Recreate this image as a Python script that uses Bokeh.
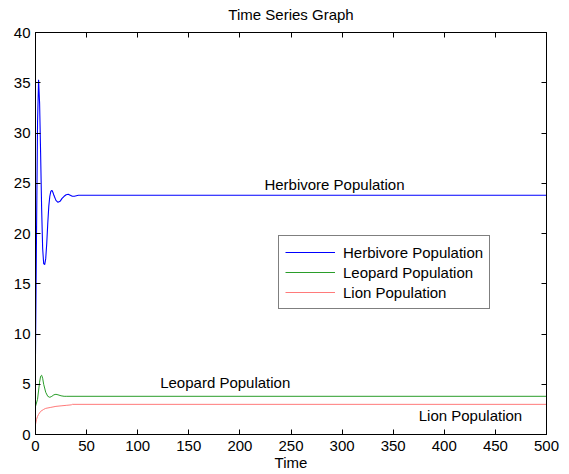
from bokeh.plotting import figure
from bokeh.models import (Range1d, LinearAxis, Label, Legend, LegendItem, FixedTicker,
                          CustomLabelingPolicy)
from bokeh.embed import file_html
from bokeh.resources import INLINE

# Population trajectories (time, population)
herb_t = [0, 1, 2, 3, 4, 5, 6, 7, 8, 9, 10, 11, 12, 13, 14, 15, 16, 17, 18, 20,
          22, 24, 26, 28, 30, 32, 34, 36, 38, 40, 42, 500]
herb_y = [8.0, 20.0, 31.0, 35.3, 33.0, 28.0, 22.5, 18.5, 17.0, 16.9, 17.5, 19.0,
          21.0, 22.7, 23.7, 24.2, 24.3, 24.1, 23.8, 23.3, 23.1, 23.2, 23.5, 23.7,
          23.85, 23.9, 23.8, 23.7, 23.7, 23.75, 23.8, 23.8]

leop_t = [0, 2, 4, 5, 6, 7, 8, 10, 12, 14, 16, 18, 20, 22, 25, 28, 30, 500]
leop_y = [2.8, 3.5, 5.2, 5.8, 5.9, 5.6, 5.0, 4.2, 3.8, 3.7, 3.8, 3.95, 4.0,
          3.95, 3.85, 3.8, 3.8, 3.8]

lion_t = [0, 1, 2, 3, 5, 8, 10, 15, 20, 25, 30, 35, 36, 500]
lion_y = [1.0, 1.5, 1.8, 2.0, 2.3, 2.5, 2.6, 2.7, 2.8, 2.85, 2.9, 2.95, 3.0, 3.0]

x_ticks = [0, 50, 100, 150, 200, 250, 300, 350, 400, 450, 500]
y_ticks = [0, 5, 10, 15, 20, 25, 30, 35, 40]

series_names = ["Herbivore Population", "Leopard Population", "Lion Population"]
series_colors = ["#0000ff", "#2a9d2a", "#ff7a7a"]

FONT = "Liberation Sans"

p = figure(width=569, height=474, output_backend="svg", toolbar_location=None,
           x_range=Range1d(0, 500), y_range=Range1d(0, 40),
           min_border_left=35, min_border_right=23, min_border_top=32,
           min_border_bottom=40, background_fill_color="white",
           border_fill_color="white")

p.title.text = "Time Series Graph"
p.title.align = "center"
p.title.text_font = FONT
p.title.text_font_size = "15px"
p.title.text_font_style = "normal"
p.title.text_color = "black"
p.title.vertical_align = "top"
p.title.standoff = 7

p.outline_line_color = "black"
p.xgrid.visible = False
p.ygrid.visible = False

# tick marks only, no labels (for the box's top and right sides)
no_labels = CustomLabelingPolicy(code="return new Set()")

def style_axis(ax, label_size="15px"):
    ax.major_tick_in = 5
    ax.major_tick_out = 0
    ax.minor_tick_in = 0
    ax.minor_tick_out = 0
    ax.axis_line_color = "black"
    ax.major_tick_line_color = "black"
    ax.major_label_text_font = FONT
    ax.major_label_text_font_size = label_size
    ax.major_label_text_color = "black"
    ax.axis_label_text_font = FONT
    ax.axis_label_text_font_size = "15px"
    ax.axis_label_text_font_style = "normal"
    ax.axis_label_text_color = "black"

p.xaxis.ticker = FixedTicker(ticks=x_ticks)
p.yaxis.ticker = FixedTicker(ticks=y_ticks)
p.xaxis.axis_label = "Time"
p.xaxis.axis_label_standoff = 0
p.xaxis.major_label_standoff = 6
p.yaxis.major_label_standoff = 5
style_axis(p.xaxis[0])
style_axis(p.yaxis[0])

top_axis = LinearAxis(ticker=FixedTicker(ticks=x_ticks), major_label_standoff=0,
                      major_label_policy=no_labels)
right_axis = LinearAxis(ticker=FixedTicker(ticks=y_ticks), major_label_standoff=0,
                        major_label_policy=no_labels)
style_axis(top_axis, "1px")
style_axis(right_axis, "1px")
p.add_layout(top_axis, "above")
p.add_layout(right_axis, "right")

r_herb = p.line(herb_t, herb_y, line_color=series_colors[0], line_width=1.1)
r_leop = p.line(leop_t, leop_y, line_color=series_colors[1], line_width=1)
r_lion = p.line(lion_t, lion_y, line_color=series_colors[2], line_width=1)

legend = Legend(items=[LegendItem(label=series_names[0], renderers=[r_herb]),
                       LegendItem(label=series_names[1], renderers=[r_leop]),
                       LegendItem(label=series_names[2], renderers=[r_lion])],
                location=(243, 125), padding=6, spacing=0, margin=0,
                glyph_width=50, glyph_height=20, label_standoff=8,
                label_height=20,
                label_text_font=FONT, label_text_font_size="15px",
                label_text_color="black", border_line_color="black",
                background_fill_alpha=1.0)
p.add_layout(legend, "center")

# In-plot annotations next to each steady state
for x, y, txt in [(224, 24.9, series_names[0]),
                  (122, 5.2, series_names[1]),
                  (375, 1.9, series_names[2])]:
    p.add_layout(Label(x=x, y=y, text=txt, text_font=FONT, text_font_size="15px",
                       text_color="black", text_baseline="middle", text_align="left"))

open("out.html", "w").write(file_html(p, INLINE))
